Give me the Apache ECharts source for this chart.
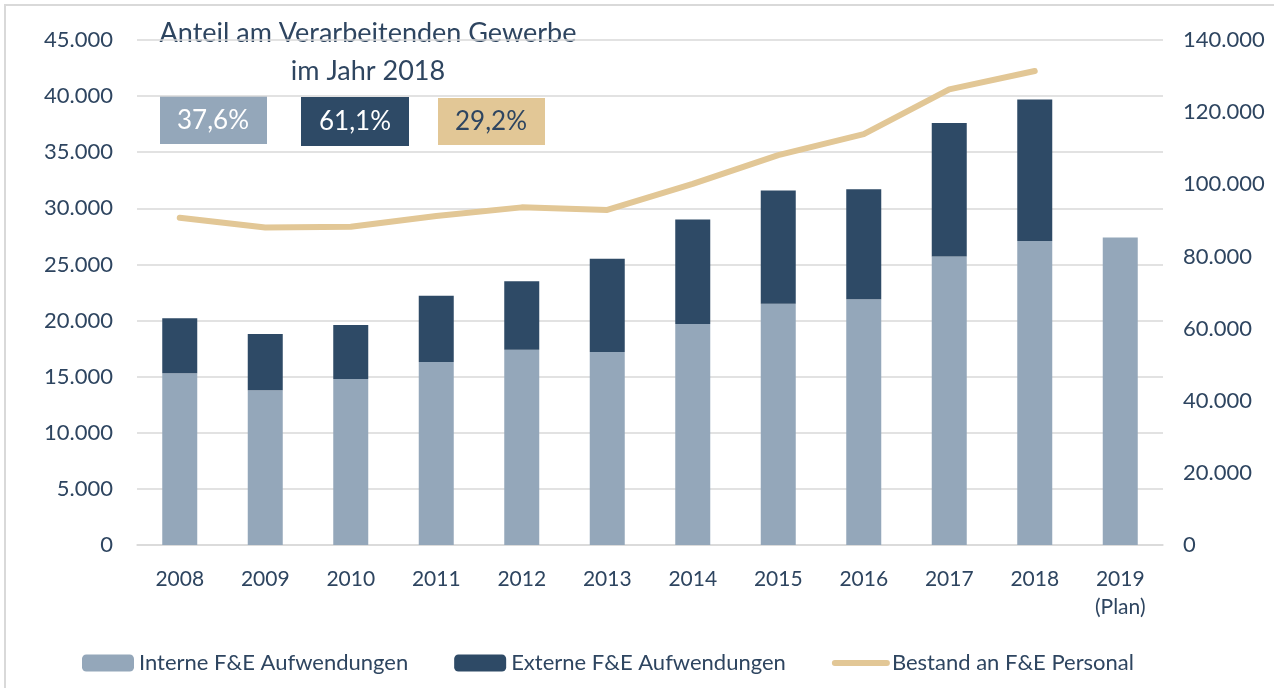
<!DOCTYPE html>
<html>
<head>
<meta charset="utf-8">
<title>F&E Aufwendungen</title>
<script src="https://cdn.jsdelivr.net/npm/echarts@6/dist/echarts.min.js"></script>
<style>
    html, body { margin: 0; padding: 0; background: #fff; }
    #chart { width: 1274px; height: 688px; }
</style>
</head>
<body>
<div id="chart"></div>
<script>
// Daten
var jahre = ['2008', '2009', '2010', '2011', '2012', '2013', '2014', '2015', '2016', '2017', '2018', '2019\n(Plan)'];
var interne = [15300, 13800, 14800, 16300, 17400, 17200, 19700, 21500, 21900, 25700, 27100, 27400];
var externe = [4900, 5000, 4800, 5900, 6100, 8300, 9300, 10100, 9800, 11900, 12600, null];
var personal = [90700, 88000, 88200, 91200, 93600, 92900, 100100, 108100, 113900, 126300, 131400, null];
var anteile = ['37,6%', '61,1%', '29,2%'];

var textFarbe = '#2e4560';
var farben = ['#94a7ba', '#2e4a66', '#e2c796'];

// 45000 -> "45.000"
var punkt = function (v) {
    return String(v).replace(/\B(?=(\d{3})+(?!\d))/g, '.');
};

var fueChart = function () {

    var box = document.getElementById('chart');
    var myChart = echarts.init(box);

    var options = {
        animation: false,
        textStyle: { fontFamily: 'Lato' },
        grid: { left: 137, right: 111, top: 40, bottom: 143 },
        legend: {
            left: 77,
            top: 647,
            itemWidth: 52,
            itemHeight: 17,
            itemGap: 46,
            textStyle: { color: textFarbe, fontSize: 22, fontFamily: 'Lato' },
            data: [
                'Interne F&E Aufwendungen',
                'Externe F&E Aufwendungen',
                // nur die Linie, ohne Kreis
                {
                    name: 'Bestand an F&E Personal',
                    itemStyle: { opacity: 0 },
                    lineStyle: { width: 6, cap: 'round', color: farben[2] }
                }
            ]
        },
        xAxis: [
            {
                type: 'category',
                data: jahre,
                axisLine: { lineStyle: { color: '#d9d9d9', width: 1.5 } },
                axisTick: { show: false },
                axisLabel: { color: textFarbe, fontSize: 21, margin: 20, lineHeight: 28 }
            }
        ],
        yAxis: [
            {
                type: 'value',
                min: 0,
                max: 45000,
                interval: 5000,
                axisLine: { show: false },
                axisTick: { show: false },
                splitLine: { lineStyle: { color: '#d9d9d9', width: 1.5 } },
                axisLabel: { color: textFarbe, fontSize: 22, margin: 24, formatter: punkt }
            },
            {
                type: 'value',
                min: 0,
                max: 140000,
                interval: 20000,
                axisLine: { show: false },
                axisTick: { show: false },
                splitLine: { show: false },
                axisLabel: { color: textFarbe, fontSize: 22, margin: 20, formatter: punkt }
            }
        ],
        series: [
            {
                name: 'Interne F&E Aufwendungen',
                type: 'bar',
                stack: 'fue',
                barWidth: 35,
                itemStyle: { color: farben[0] },
                data: interne
            },
            {
                name: 'Externe F&E Aufwendungen',
                type: 'bar',
                stack: 'fue',
                barWidth: 35,
                itemStyle: { color: farben[1] },
                data: externe
            },
            {
                name: 'Bestand an F&E Personal',
                type: 'line',
                yAxisIndex: 1,
                symbol: 'none',
                itemStyle: { color: farben[2] },
                lineStyle: { color: farben[2], width: 6, cap: 'round', join: 'round' },
                data: personal
            }
        ],
        graphic: [
            // Rahmen
            {
                type: 'rect',
                shape: { x: 5, y: 5, width: 1290, height: 700 },
                style: { fill: 'none', stroke: '#d9d9d9', lineWidth: 2 },
                silent: true
            },
            {
                type: 'text',
                x: 368, y: 52,
                style: {
                    text: 'Anteil am Verarbeitenden Gewerbe\nim Jahr 2018',
                    fill: textFarbe,
                    font: '27px Lato',
                    align: 'center',
                    verticalAlign: 'middle',
                    lineHeight: 38
                }
            },
            {
                type: 'rect',
                shape: { x: 160, y: 96, width: 107, height: 48 },
                style: { fill: farben[0] }
            },
            {
                type: 'text',
                x: 213, y: 121,
                style: { text: anteile[0], fill: '#fff', font: '26px Lato', align: 'center', verticalAlign: 'middle' }
            },
            {
                type: 'rect',
                shape: { x: 301, y: 97, width: 108, height: 49 },
                style: { fill: farben[1] }
            },
            {
                type: 'text',
                x: 355, y: 122,
                style: { text: anteile[1], fill: '#fff', font: '26px Lato', align: 'center', verticalAlign: 'middle' }
            },
            {
                type: 'rect',
                shape: { x: 438, y: 98, width: 107, height: 47 },
                style: { fill: farben[2] }
            },
            {
                type: 'text',
                x: 491, y: 122,
                style: { text: anteile[2], fill: textFarbe, font: '26px Lato', align: 'center', verticalAlign: 'middle' }
            }
        ]
    };

    myChart.setOption(options);
};

fueChart();
</script>
</body>
</html>
